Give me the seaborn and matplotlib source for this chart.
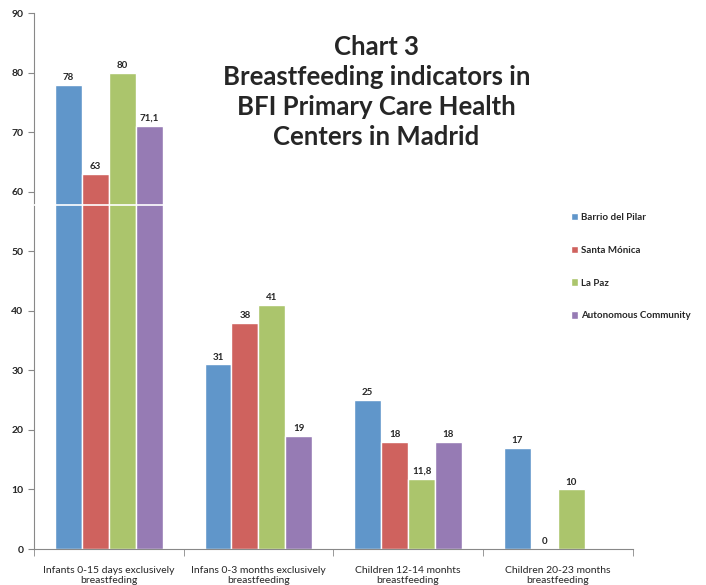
import numpy as np
import pandas as pd
import matplotlib
matplotlib.use('Agg')
import matplotlib.pyplot as plt
import seaborn as sns

# 데이터
categories = ['Infants 0-15 days exclusively\nbreastfeding',
              'Infans 0-3 months exclusively\nbreastfeeding',
              'Children 12-14 monhts\nbreastfeeding',
              'Children 20-23 months\nbreastfeeding']
series = ['Barrio del Pilar', 'Santa Mónica', 'La Paz', 'Autonomous Community']
barrio = [78, 31, 25, 17]
santa = [63, 38, 18, 0]
lapaz = [80, 41, 11.8, 10]
autonomous = [71.1, 19, 18, np.nan]
colors = ['#6096CA', '#CF625E', '#ABC56C', '#967BB4']

rows = []
for name, vals in zip(series, [barrio, santa, lapaz, autonomous]):
    for cat, v in zip(categories, vals):
        rows.append({'cat': cat, 'series': name, 'value': v})
df = pd.DataFrame(rows)

sns.set_style('white')
plt.rcParams['font.family'] = ['Lato', 'DejaVu Sans']

fig = plt.figure(figsize=(7.06, 5.85), dpi=100)
ax = fig.add_axes([0.048, 0.0615, 0.848, 0.916])

sns.barplot(data=df, x='cat', y='value', hue='series', palette=colors,
            width=0.72, saturation=1, ax=ax, legend=True)

# 값 라벨 (소수점 쉼표)
for cont in ax.containers:
    labels = []
    for bar in cont:
        h = bar.get_height()
        if np.isnan(h):
            labels.append('')
        else:
            labels.append(('%g' % h).replace('.', ','))
    ax.bar_label(cont, labels=labels, padding=2, fontsize=7, fontweight='bold')

# scan artifact 흰 선
ax.axhline(57.7, color='white', lw=1.2, zorder=5)

ax.set_ylim(0, 90)
ax.set_xlim(-0.5, 3.5)
ax.set_yticks(range(0, 91, 10))
ax.set_xlabel('')
ax.set_ylabel('')
ax.tick_params(axis='x', length=0, labelsize=7.5, pad=12)
ax.tick_params(axis='y', length=4, color='#888888', labelsize=7.5, direction='out', left=True)
for t in ax.get_yticklabels():
    t.set_fontweight('bold')
ax.set_xticks([-0.5, 0.5, 1.5, 2.5, 3.5], minor=True)
ax.tick_params(axis='x', which='minor', length=5, color='#888888', direction='out', bottom=True)
for s in ['top', 'right']:
    ax.spines[s].set_visible(False)
for s in ['left', 'bottom']:
    ax.spines[s].set_color('#888888')

ax.legend(loc='upper left', bbox_to_anchor=(0.89, 0.635), frameon=False,
          handlelength=0.8, handleheight=0.8, labelspacing=2.45,
          handletextpad=0.3, borderaxespad=0, prop={'weight': 'bold', 'size': 7})

fig.text(0.533, 0.842, 'Chart 3\nBreastfeeding indicators in\nBFI Primary Care Health\nCenters in Madrid',
         ha='center', va='center', fontsize=18.5, fontweight='bold', linespacing=1.3)

fig.savefig('out.png', dpi=100)
